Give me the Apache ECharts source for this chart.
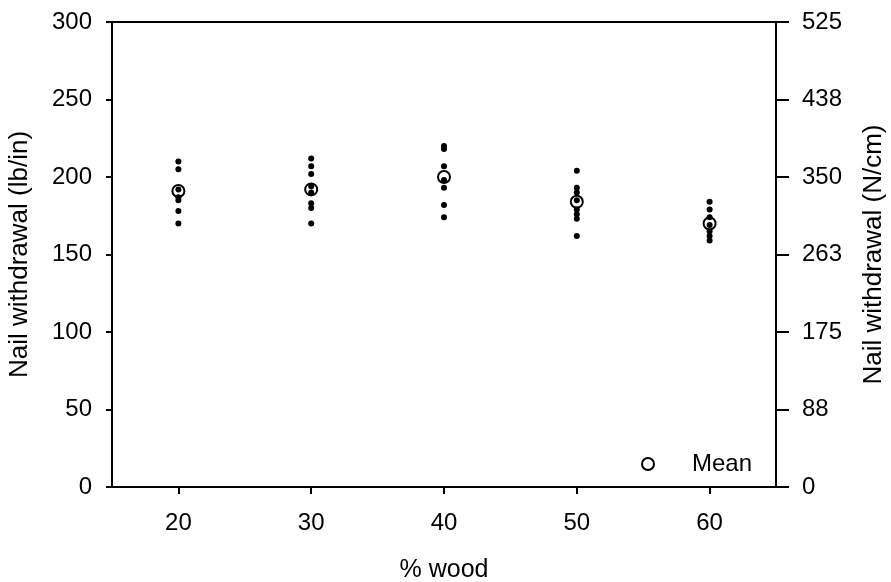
<!DOCTYPE html>
<html>
<head>
<meta charset="utf-8">
<script src="https://cdn.jsdelivr.net/npm/echarts@6/dist/echarts.min.js"></script>
<style>
  html, body { margin: 0; padding: 0; background: #fff; }
  #chart { width: 891px; height: 582px; }
</style>
</head>
<body>
<div id="chart"></div>
<script>
// Nail withdrawal vs % wood (individual specimens + mean)
var woodLevels = [20, 30, 40, 50, 60];
var specimens = [
  [210, 205, 192, 187, 185, 178, 170],
  [212, 207, 202, 194, 190, 183, 180, 170],
  [220, 218, 207, 198, 193, 182, 174],
  [204, 193, 190, 185, 179, 176, 173, 162],
  [184, 179, 174, 169, 165, 162, 159]
];
var means = [191, 192, 200, 184, 170];
var leftTicks = [0, 50, 100, 150, 200, 250, 300];
var rightMax = 525;

var font = 'Liberation Sans, Arial, sans-serif';

var pointData = [];
woodLevels.forEach(function (w, i) {
  specimens[i].forEach(function (v) {
    pointData.push([w, v]);
  });
});
var meanData = woodLevels.map(function (w, i) {
  return [w, means[i]];
});

var chart = echarts.init(document.getElementById('chart'));

var option = {
  animation: false,
  backgroundColor: '#fff',
  textStyle: { fontFamily: font, color: '#000' },
  grid: {
    left: 112,
    right: 115,
    top: 22,
    bottom: 95,
    outerBoundsMode: 'none',
    show: true,
    borderColor: '#000',
    borderWidth: 2,
    backgroundColor: 'transparent'
  },
  legend: {
    data: ['Mean'],
    left: 636,
    top: 447,
    itemWidth: 78,
    itemHeight: 12,
    textStyle: { fontSize: 24, color: '#000', fontFamily: font }
  },
  xAxis: {
    type: 'value',
    min: 15,
    max: 65,
    name: '% wood',
    nameLocation: 'middle',
    nameGap: 71,
    nameTextStyle: { fontSize: 25, color: '#000', fontFamily: font },
    axisLine: { show: true, lineStyle: { color: '#000', width: 2 } },
    axisTick: {
      show: true,
      customValues: woodLevels,
      length: 7,
      lineStyle: { color: '#000', width: 2 }
    },
    axisLabel: {
      customValues: woodLevels,
      fontSize: 24,
      color: '#000',
      margin: 24
    },
    splitLine: { show: false }
  },
  yAxis: [{
    type: 'value',
    position: 'left',
    min: leftTicks[0],
    max: leftTicks[leftTicks.length - 1],
    interval: leftTicks[1] - leftTicks[0],
    name: 'Nail withdrawal (lb/in)',
    nameLocation: 'middle',
    nameGap: 79,
    nameTextStyle: { fontSize: 26, color: '#000', fontFamily: font },
    axisLine: { show: true, lineStyle: { color: '#000', width: 2 } },
    axisTick: { show: true, length: 6, lineStyle: { color: '#000', width: 2 } },
    axisLabel: { fontSize: 24, color: '#000', margin: 20 },
    splitLine: { show: false }
  }, {
    type: 'value',
    position: 'right',
    min: 0,
    max: rightMax,
    interval: rightMax / 6,
    name: 'Nail withdrawal (N/cm)',
    nameLocation: 'middle',
    nameGap: 85,
    nameTextStyle: { fontSize: 26, color: '#000', fontFamily: font },
    axisLine: { show: true, lineStyle: { color: '#000', width: 2 } },
    axisTick: { show: true, length: 13, lineStyle: { color: '#000', width: 2 } },
    axisLabel: {
      fontSize: 24,
      color: '#000',
      margin: 26,
      formatter: function (v) { return Math.round(v); }
    },
    splitLine: { show: false }
  }],
  series: [{
    name: 'Specimen',
    type: 'scatter',
    data: pointData,
    symbol: 'circle',
    symbolSize: 6,
    itemStyle: { color: '#000', opacity: 1 }
  }, {
    name: 'Mean',
    type: 'scatter',
    data: meanData,
    symbol: 'circle',
    symbolSize: 12,
    itemStyle: { color: 'rgba(0,0,0,0)', borderColor: '#000', borderWidth: 2, opacity: 1 }
  }]
};

chart.setOption(option);
</script>
</body>
</html>
